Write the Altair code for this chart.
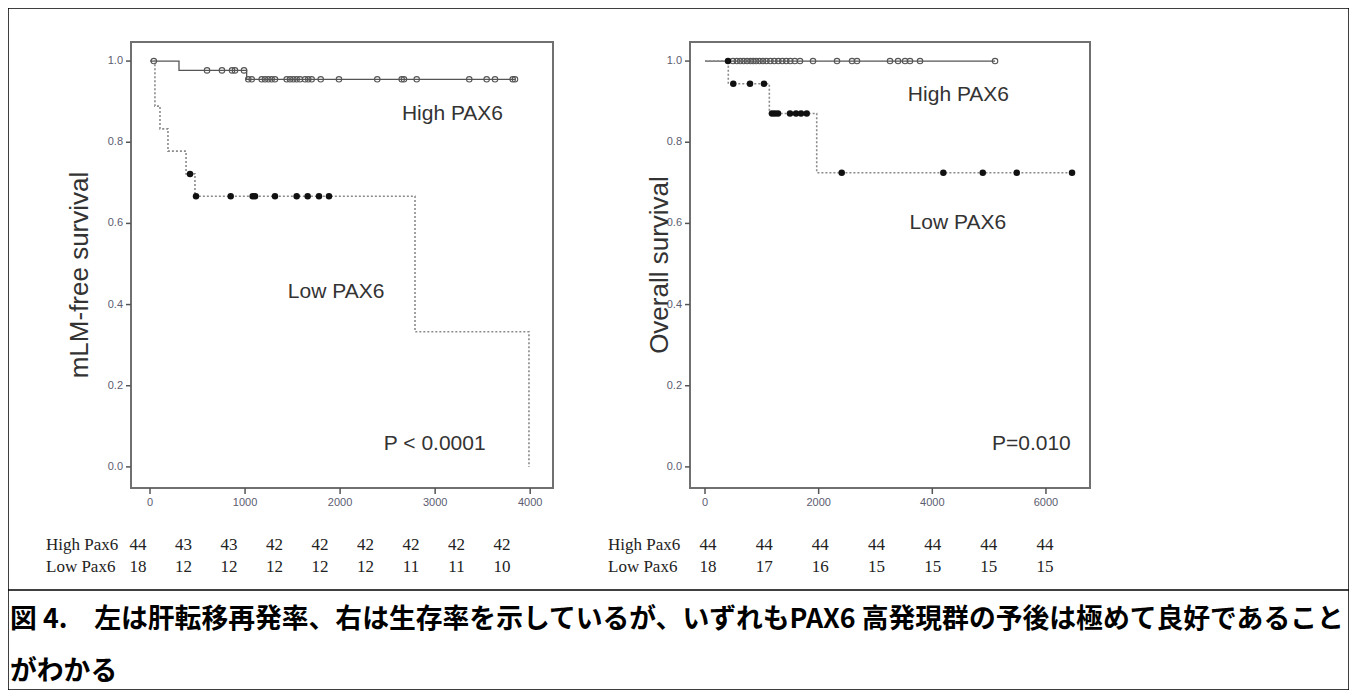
import altair as alt
import pandas as pd

# ---------------- data ----------------
# Left panel: mLM-free survival (days)
left_high_step_t = [0, 305, 1017, 3840]
left_high_step_s = [1.0, 0.977, 0.955, 0.955]
left_high_cens_t = [40, 600, 757, 863, 894, 989,
                    1034, 1070, 1175, 1210, 1245, 1280, 1315, 1438, 1473, 1508, 1543,
                    1578, 1631, 1665, 1701, 1796, 1988, 2391, 2648, 2672, 2806, 3359,
                    3542, 3630, 3816, 3840]
left_high_cens_s = [1.0, 0.977, 0.977, 0.977, 0.977, 0.977,
                    0.955, 0.955, 0.955, 0.955, 0.955, 0.955, 0.955, 0.955, 0.955, 0.955, 0.955,
                    0.955, 0.955, 0.955, 0.955, 0.955, 0.955, 0.955, 0.955, 0.955, 0.955, 0.955,
                    0.955, 0.955, 0.955, 0.955]

left_low_step_t = [0, 52, 105, 189, 379, 473, 2788, 3987]
left_low_step_s = [1.0, 0.889, 0.833, 0.778, 0.722, 0.667, 0.333, 0.0]
left_low_cens_t = [421, 484, 849, 1080, 1105, 1315, 1543, 1659, 1778, 1883]
left_low_cens_s = [0.722, 0.667, 0.667, 0.667, 0.667, 0.667, 0.667, 0.667, 0.667, 0.667]

# Right panel: overall survival (days)
right_high_step_t = [0, 5104]
right_high_step_s = [1.0, 1.0]
right_high_cens_t = [493, 560, 620, 680, 740, 800, 850, 900, 960, 1020, 1080, 1150, 1220,
                     1290, 1360, 1430, 1500, 1580, 1672, 1901, 2323, 2587, 2675, 3256,
                     3397, 3520, 3608, 3784, 5104]
right_high_cens_s = [1.0] * len(right_high_cens_t)

right_low_step_t = [0, 410, 1132, 1966, 6459]
right_low_step_s = [1.0, 0.944, 0.871, 0.725, 0.725]
right_low_cens_t = [405, 498, 792, 1038, 1179, 1230, 1285, 1496, 1602, 1690, 1790,
                    2406, 4194, 4888, 5486, 6459]
right_low_cens_s = [1.0, 0.944, 0.944, 0.944, 0.871, 0.871, 0.871, 0.871, 0.871, 0.871,
                    0.871, 0.725, 0.725, 0.725, 0.725, 0.725]

# Number-at-risk tables
risk_rows = ["High Pax6", "Low Pax6"]
left_risk_t = [0, 500, 1000, 1500, 2000, 2500, 3000, 3500, 4000]
left_risk_high = [44, 43, 43, 42, 42, 42, 42, 42, 42]
left_risk_low = [18, 12, 12, 12, 12, 12, 11, 11, 10]
right_risk_t = [0, 1000, 2000, 3000, 4000, 5000, 6000]
right_risk_high = [44, 44, 44, 44, 44, 44, 44]
right_risk_low = [18, 17, 16, 15, 15, 15, 15]

# Annotations (data coordinates)
left_labels = ["High PAX6", "Low PAX6", "P < 0.0001"]
left_labels_t = [2650, 1450, 2460]
left_labels_s = [0.87, 0.43, 0.056]
right_labels = ["High PAX6", "Low PAX6", "P=0.010"]
right_labels_t = [3570, 3600, 5050]
right_labels_s = [0.916, 0.601, 0.056]

caption_lines = [
    "図 4.　左は肝転移再発率、右は生存率を示しているが、いずれもPAX6 高発現群の予後は極めて良好であること",
    "がわかる",
]

left_xticks = [0, 1000, 2000, 3000, 4000]
right_xticks = [0, 2000, 4000, 6000]
yticks = [0.0, 0.2, 0.4, 0.6, 0.8, 1.0]
ytick_labels = ["0.0", "0.2", "0.4", "0.6", "0.8", "1.0"]

# ---------------- layout ----------------
W, H = 1341, 682
Y_DOM = [-0.052, 1.047]
Y_RANGE = [480, 34]
LX_DOM = [-200, 4240]
LX_RANGE = [123, 545]
RX_DOM = [-264, 6775]
RX_RANGE = [682, 1082]

SANS = "Liberation Sans"
SERIF = "Liberation Serif"
AXIS_LABEL_COLOR = "#5c5c70"
TICK_COLOR = "#555"


def panel(xdom, xrange, xticks, ytitle, title_x, title_y,
          hs_t, hs_s, hc_t, hc_s, ls_t, ls_s, lc_t, lc_s, lab, lab_t, lab_s):
    xs = alt.Scale(domain=xdom, range=xrange, nice=False, zero=False)
    ys = alt.Scale(domain=Y_DOM, range=Y_RANGE, nice=False, zero=False)

    def X(f):
        return alt.X(f, scale=xs, axis=None)

    def Y(f):
        return alt.Y(f, scale=ys, axis=None)

    frame_df = pd.DataFrame({"x": [xdom[0]], "x2": [xdom[1]], "y": [Y_DOM[0]], "y2": [Y_DOM[1]]})
    frame = alt.Chart(frame_df).mark_rect(fillOpacity=0, stroke="#707070", strokeWidth=2).encode(
        x=X("x:Q"), x2="x2:Q", y=Y("y:Q"), y2="y2:Q"
    )

    # x axis (ticks + labels) through the x scale
    xt_df = pd.DataFrame({"v": xticks, "lab": [str(v) for v in xticks]})
    xtick = alt.Chart(xt_df).mark_rule(color=TICK_COLOR, strokeWidth=1.5).encode(
        x=X("v:Q"), y=alt.value(Y_RANGE[0]), y2=alt.value(Y_RANGE[0] + 6)
    )
    xlab = alt.Chart(xt_df).mark_text(
        font=SANS, fontSize=11, color=AXIS_LABEL_COLOR, baseline="top", align="center"
    ).encode(x=X("v:Q"), y=alt.value(Y_RANGE[0] + 9), text="lab:N")

    # y axis (ticks + labels) through the y scale
    yt_df = pd.DataFrame({"v": yticks, "lab": ytick_labels})
    ytick = alt.Chart(yt_df).mark_rule(color=TICK_COLOR, strokeWidth=1.5).encode(
        y=Y("v:Q"), x=alt.value(xrange[0] - 5), x2=alt.value(xrange[0])
    )
    ylab = alt.Chart(yt_df).mark_text(
        font=SANS, fontSize=11, color=AXIS_LABEL_COLOR, baseline="middle", align="right"
    ).encode(y=Y("v:Q"), x=alt.value(xrange[0] - 8), text="lab:N")

    ytitle_mark = alt.Chart(pd.DataFrame({"t": [ytitle]})).mark_text(
        font=SANS, fontSize=26, color="#333", angle=270, align="center", baseline="alphabetic"
    ).encode(x=alt.value(title_x), y=alt.value(title_y), text="t:N")

    high_line = alt.Chart(pd.DataFrame({"t": hs_t, "s": hs_s})).mark_line(
        interpolate="step-after", color="#555", strokeWidth=1.3
    ).encode(x=X("t:Q"), y=Y("s:Q"))

    low_line = alt.Chart(pd.DataFrame({"t": ls_t, "s": ls_s})).mark_line(
        interpolate="step-after", color="#8a8a8a", strokeWidth=1.6, strokeDash=[2, 2]
    ).encode(x=X("t:Q"), y=Y("s:Q"))

    high_pts = alt.Chart(pd.DataFrame({"t": hc_t, "s": hc_s})).mark_point(
        shape="circle", filled=False, color="#555", size=30, strokeWidth=1.1, opacity=1
    ).encode(x=X("t:Q"), y=Y("s:Q"))

    low_pts = alt.Chart(pd.DataFrame({"t": lc_t, "s": lc_s})).mark_circle(
        color="#111", size=42, opacity=1
    ).encode(x=X("t:Q"), y=Y("s:Q"))

    labels = alt.Chart(pd.DataFrame({"t": lab_t, "s": lab_s, "txt": lab})).mark_text(
        align="left", baseline="middle", font=SANS, fontSize=21, color="#333"
    ).encode(x=X("t:Q"), y=Y("s:Q"), text="txt:N")

    return alt.layer(frame, xtick, xlab, ytick, ylab, ytitle_mark,
                     high_line, low_line, high_pts, low_pts, labels)


def risk_table(times, high, low, dom, rng, label_x):
    df = pd.DataFrame({
        "t": times + times,
        "row": [risk_rows[0]] * len(times) + [risk_rows[1]] * len(times),
        "n": [str(v) for v in high + low],
    })
    ysc = alt.Scale(type="point", domain=risk_rows, range=[537, 559], padding=0)
    nums = alt.Chart(df).mark_text(font=SERIF, fontSize=17, color="#222", baseline="middle").encode(
        x=alt.X("t:Q", scale=alt.Scale(domain=dom, range=rng, nice=False, zero=False), axis=None),
        y=alt.Y("row:N", scale=ysc, axis=None),
        text="n:N",
    )
    rows = alt.Chart(pd.DataFrame({"row": risk_rows})).mark_text(
        font=SERIF, fontSize=17, color="#222", align="left", baseline="middle"
    ).encode(x=alt.value(label_x), y=alt.Y("row:N", scale=ysc, axis=None), text="row:N")
    return alt.layer(nums, rows)


left_panel = panel(LX_DOM, LX_RANGE, left_xticks, "mLM-free survival", 80, 267,
                   left_high_step_t, left_high_step_s, left_high_cens_t, left_high_cens_s,
                   left_low_step_t, left_low_step_s, left_low_cens_t, left_low_cens_s,
                   left_labels, left_labels_t, left_labels_s)
right_panel = panel(RX_DOM, RX_RANGE, right_xticks, "Overall survival", 660, 257,
                    right_high_step_t, right_high_step_s, right_high_cens_t, right_high_cens_s,
                    right_low_step_t, right_low_step_s, right_low_cens_t, right_low_cens_s,
                    right_labels, right_labels_t, right_labels_s)

left_tab = risk_table(left_risk_t, left_risk_high, left_risk_low, [0, 4000], [130, 494], 38)
right_tab = risk_table(right_risk_t, right_risk_high, right_risk_low, [0, 6000], [700, 1037], 600)

sep = alt.Chart(pd.DataFrame({"a": [0]})).mark_rule(color="#000", strokeWidth=1.5).encode(
    x=alt.value(0), x2=alt.value(W), y=alt.value(582)
)
cap1 = alt.Chart(pd.DataFrame({"txt": [caption_lines[0]]})).mark_text(
    align="left", baseline="middle", font="Noto Sans CJK JP", fontSize=26.8, fontWeight="bold",
    color="#000"
).encode(x=alt.value(2), y=alt.value(612), text="txt:N")
cap2 = alt.Chart(pd.DataFrame({"txt": [caption_lines[1]]})).mark_text(
    align="left", baseline="middle", font="Noto Sans CJK JP", fontSize=26.8, fontWeight="bold",
    color="#000"
).encode(x=alt.value(2), y=alt.value(664), text="txt:N")

chart = alt.layer(left_panel, right_panel, left_tab, right_tab, sep, cap1, cap2).resolve_scale(
    x="independent", y="independent"
).properties(
    width=W, height=H, autosize=alt.AutoSizeParams(type="none"), padding=0,
    background="white"
).configure_view(stroke="#000", strokeWidth=1.5)

chart.save("out.html", embed_options={"renderer": "svg", "actions": False})
